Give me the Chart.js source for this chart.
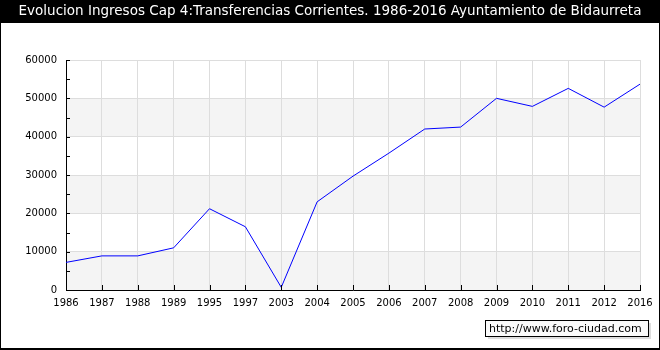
<!DOCTYPE html>
<html>
<head>
<meta charset="utf-8">
<script src="https://cdn.jsdelivr.net/npm/chart.js@4/dist/chart.umd.min.js"></script>
<style>
  body { margin: 0; background: #fff; }
  #wrap { position: relative; width: 660px; height: 350px; }
</style>
</head>
<body>
<div id="wrap"><canvas id="ingresosChart"></canvas></div>
<script>
// Data
const years = ["1986", "1987", "1988", "1989", "1995", "1997", "2003", "2004", "2005",
    "2006", "2007", "2008", "2009", "2010", "2011", "2012", "2016"];
const ingresos = [7200, 8900, 8900, 11000, 21200, 16500, 700, 23000, 29700,
    35700, 42000, 42500, 50000, 47900, 52600, 47700, 53700];
const yTicks = [0, 10000, 20000, 30000, 40000, 50000, 60000];
const titleText = "Evolucion Ingresos Cap 4:Transferencias Corrientes. 1986-2016 Ayuntamiento de Bidaurreta";
const watermark = "http://www.foro-ciudad.com";

const fontFamily = "'DejaVu Sans', Verdana, sans-serif";

// Background, header bar, bands, inner ticks and the watermark box
const decorPlugin = {
    id: "decor",
    beforeDraw(chart) {
        const ctx = chart.ctx;
        const { left, right } = chart.chartArea;
        const y = chart.scales.y;
        ctx.save();
        ctx.fillStyle = "#fff";
        ctx.fillRect(0, 0, chart.width, chart.height);
        ctx.fillStyle = "#000";
        ctx.fillRect(0, 0, chart.width, 23);
        // alternating bands
        ctx.fillStyle = "#f4f4f4";
        for (let v = 0; v < 60000; v += 20000) {
            const top = y.getPixelForValue(v + 10000);
            const bot = y.getPixelForValue(v);
            ctx.fillRect(left, top, right - left, bot - top);
        }
        ctx.restore();
    },
    afterDraw(chart) {
        const ctx = chart.ctx;
        const { left, bottom } = chart.chartArea;
        const x = chart.scales.x;
        const y = chart.scales.y;
        ctx.save();
        ctx.strokeStyle = "#000";
        ctx.lineWidth = 1;
        ctx.beginPath();
        for (let v = 0; v <= 60000; v += 5000) {
            const py = Math.round(y.getPixelForValue(v)) + 0.5;
            ctx.moveTo(left, py);
            ctx.lineTo(left + 4, py);
        }
        years.forEach((yr, i) => {
            const px = Math.round(x.getPixelForValue(i)) + 0.5;
            ctx.moveTo(px, bottom);
            ctx.lineTo(px, bottom - 5);
        });
        ctx.stroke();

        // outer frame
        ctx.strokeRect(0.5, 0.5, chart.width - 1, chart.height - 1);
        ctx.fillStyle = "#000";
        ctx.fillRect(0, chart.height - 2, chart.width, 2);

        // watermark box
        const bx = 485, by = 320, bw = 163, bh = 16;
        ctx.fillStyle = "#ddd";
        ctx.fillRect(bx + 3, by + 3, bw, bh);
        ctx.fillStyle = "#fafafa";
        ctx.fillRect(bx, by, bw, bh);
        ctx.strokeStyle = "#000";
        ctx.strokeRect(bx + 0.5, by + 0.5, bw, bh);
        ctx.fillStyle = "#000";
        ctx.font = "11px " + fontFamily;
        ctx.textBaseline = "middle";
        ctx.textAlign = "left";
        ctx.fillText(watermark, bx + 4, by + bh / 2 + 1);
        ctx.restore();
    }
};

const ctx = document.getElementById("ingresosChart").getContext("2d");
const myChart = new Chart(ctx, {
    type: "line",
    data: {
        labels: years,
        datasets: [
            {
                label: "Ingresos",
                data: ingresos,
                borderColor: "#0000ff",
                borderWidth: 1,
                pointRadius: 0,
                fill: false,
                tension: 0,
            },
        ],
    },
    options: {
        responsive: true,
        maintainAspectRatio: false,
        animation: false,
        layout: { padding: 0 },
        plugins: {
            legend: { display: false },
            tooltip: { enabled: false },
            title: {
                display: true,
                text: titleText,
                color: "#fff",
                font: { family: fontFamily, size: 13.5, weight: "normal", lineHeight: 1.2 },
                padding: { top: 3, bottom: 40.8 },
            },
        },
        scales: {
            x: {
                type: "category",
                offset: false,
                grid: { color: "#dddddd", drawTicks: false },
                border: { color: "#000" },
                ticks: {
                    color: "#000",
                    font: { family: fontFamily, size: 10 },
                    padding: 7,
                    maxRotation: 0,
                    autoSkip: false,
                },
                afterFit(scale) { scale.height = 60; },
            },
            y: {
                min: 0,
                max: 60000,
                afterBuildTicks(scale) {
                    scale.ticks = yTicks.map((v) => ({ value: v }));
                },
                grid: { color: "#dddddd", drawTicks: false },
                border: { color: "#000" },
                ticks: {
                    color: "#000",
                    font: { family: fontFamily, size: 10 },
                    padding: 9,
                    callback: (v) => String(v),
                },
                afterFit(scale) { scale.width = 66; },
            },
            // empty right-hand strip so the plot ends at x=640
            yRight: {
                position: "right",
                min: 0,
                max: 60000,
                grid: { drawOnChartArea: false, drawTicks: false },
                border: { display: false },
                ticks: { display: false },
                afterFit(scale) { scale.width = 20; },
            },
        },
    },
    plugins: [decorPlugin],
});
</script>
</body>
</html>
